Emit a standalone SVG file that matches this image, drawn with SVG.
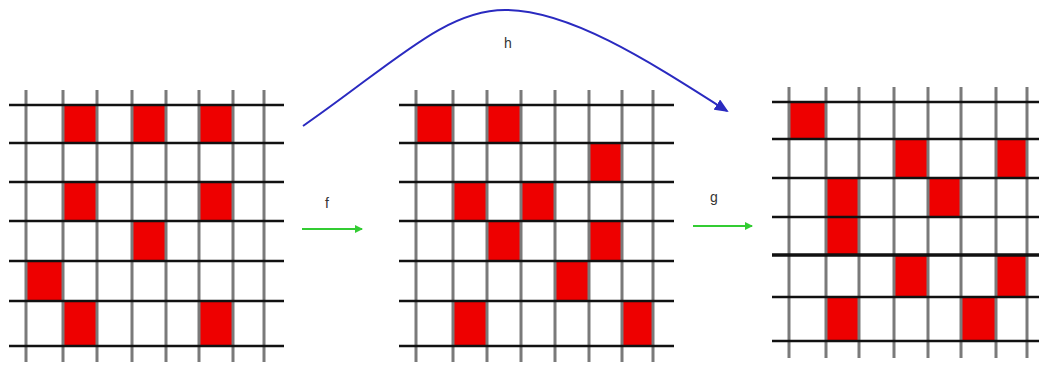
<svg xmlns="http://www.w3.org/2000/svg" width="1039" height="366" viewBox="0 0 1039 366">
<style>
.v{stroke:#7a7a7a;stroke-width:3}
.h{stroke:#111;stroke-width:2.5}
.c{fill:#ee0000}
.lbl{font-family:"Liberation Sans",Arial,sans-serif;font-size:14px;fill:#333;text-anchor:middle}
</style>
<defs>
<marker id="ag" markerWidth="8" markerHeight="8" refX="7" refY="4" orient="auto" markerUnits="userSpaceOnUse"><path d="M0,0 L8,4 L0,8 Z" fill="#33cc33"/></marker>
<marker id="ab" markerWidth="14" markerHeight="12" refX="12" refY="6" orient="auto" markerUnits="userSpaceOnUse"><path d="M0,0 L14,6 L0,12 Z" fill="#2a2ac0"/></marker>
</defs>
<rect width="1039" height="366" fill="#fff"/>
<g id="grid1">
<rect class="c" x="64" y="105" width="33" height="38"/><rect class="c" x="132" y="105" width="34" height="38"/><rect class="c" x="199" y="105" width="34" height="38"/>
<rect class="c" x="64" y="182" width="33" height="39"/><rect class="c" x="199" y="182" width="34" height="39"/>
<rect class="c" x="132" y="221" width="34" height="40"/>
<rect class="c" x="26" y="261" width="37" height="40"/>
<rect class="c" x="64" y="301" width="33" height="45"/><rect class="c" x="199" y="301" width="34" height="45"/>
<g class="v"><line x1="26" y1="90" x2="26" y2="362"/><line x1="63" y1="90" x2="63" y2="362"/><line x1="97" y1="90" x2="97" y2="362"/><line x1="132" y1="90" x2="132" y2="362"/><line x1="166" y1="90" x2="166" y2="362"/><line x1="199" y1="90" x2="199" y2="362"/><line x1="233" y1="90" x2="233" y2="362"/><line x1="264" y1="90" x2="264" y2="362"/></g>
<g class="h"><line x1="9" y1="105" x2="284" y2="105"/><line x1="9" y1="143" x2="284" y2="143"/><line x1="9" y1="182" x2="284" y2="182"/><line x1="9" y1="221" x2="284" y2="221"/><line x1="9" y1="261" x2="284" y2="261"/><line x1="9" y1="301" x2="284" y2="301"/><line x1="9" y1="346" x2="284" y2="346"/></g>
</g>
<g id="grid2">
<rect class="c" x="416" y="105" width="37" height="38"/><rect class="c" x="487" y="105" width="34" height="38"/>
<rect class="c" x="589" y="143" width="33" height="39"/>
<rect class="c" x="453" y="182" width="34" height="39"/><rect class="c" x="521" y="182" width="34" height="39"/>
<rect class="c" x="487" y="221" width="34" height="40"/><rect class="c" x="589" y="221" width="33" height="40"/>
<rect class="c" x="555" y="261" width="34" height="40"/>
<rect class="c" x="453" y="301" width="34" height="45"/><rect class="c" x="622" y="301" width="31" height="45"/>
<g class="v"><line x1="416" y1="90" x2="416" y2="362"/><line x1="453" y1="90" x2="453" y2="362"/><line x1="487" y1="90" x2="487" y2="362"/><line x1="521" y1="90" x2="521" y2="362"/><line x1="555" y1="90" x2="555" y2="362"/><line x1="589" y1="90" x2="589" y2="362"/><line x1="622" y1="90" x2="622" y2="362"/><line x1="653" y1="90" x2="653" y2="362"/></g>
<g class="h"><line x1="399" y1="105" x2="674" y2="105"/><line x1="399" y1="143" x2="674" y2="143"/><line x1="399" y1="182" x2="674" y2="182"/><line x1="399" y1="221" x2="674" y2="221"/><line x1="399" y1="261" x2="674" y2="261"/><line x1="399" y1="301" x2="674" y2="301"/><line x1="399" y1="346" x2="674" y2="346"/></g>
</g>
<g id="grid3">
<rect class="c" x="789" y="102" width="37" height="37"/>
<rect class="c" x="894" y="139" width="34" height="39"/><rect class="c" x="996" y="139" width="31" height="39"/>
<rect class="c" x="826" y="178" width="33" height="39"/><rect class="c" x="928" y="178" width="33" height="39"/>
<rect class="c" x="826" y="217" width="33" height="38"/>
<rect class="c" x="894" y="255" width="34" height="42"/><rect class="c" x="996" y="255" width="31" height="42"/>
<rect class="c" x="826" y="297" width="33" height="44"/><rect class="c" x="961" y="297" width="35" height="44"/>
<g class="v"><line x1="789" y1="87" x2="789" y2="358"/><line x1="826" y1="87" x2="826" y2="358"/><line x1="859" y1="87" x2="859" y2="358"/><line x1="894" y1="87" x2="894" y2="358"/><line x1="928" y1="87" x2="928" y2="358"/><line x1="961" y1="87" x2="961" y2="358"/><line x1="996" y1="87" x2="996" y2="358"/><line x1="1027" y1="87" x2="1027" y2="358"/></g>
<g class="h"><line x1="772" y1="102" x2="1039" y2="102"/><line x1="772" y1="139" x2="1039" y2="139"/><line x1="772" y1="178" x2="1039" y2="178"/><line x1="772" y1="217" x2="1039" y2="217"/><line x1="772" y1="255" x2="1039" y2="255" stroke-width="3.5"/><line x1="772" y1="297" x2="1039" y2="297"/><line x1="772" y1="341" x2="1039" y2="341"/></g>
</g>
<g id="connectors">
<path d="M303,126 C395,62 445,10 505,10 C570,10 650,62 727,111" fill="none" stroke="#2a2ac0" stroke-width="2" marker-end="url(#ab)"/>
<line x1="302" y1="229" x2="362" y2="229" stroke="#33cc33" stroke-width="2" marker-end="url(#ag)"/>
<line x1="693" y1="226" x2="752" y2="226" stroke="#33cc33" stroke-width="2" marker-end="url(#ag)"/>
</g>
<text class="lbl" x="508" y="48">h</text>
<text class="lbl" x="327" y="208">f</text>
<text class="lbl" x="714" y="202">g</text>
</svg>
